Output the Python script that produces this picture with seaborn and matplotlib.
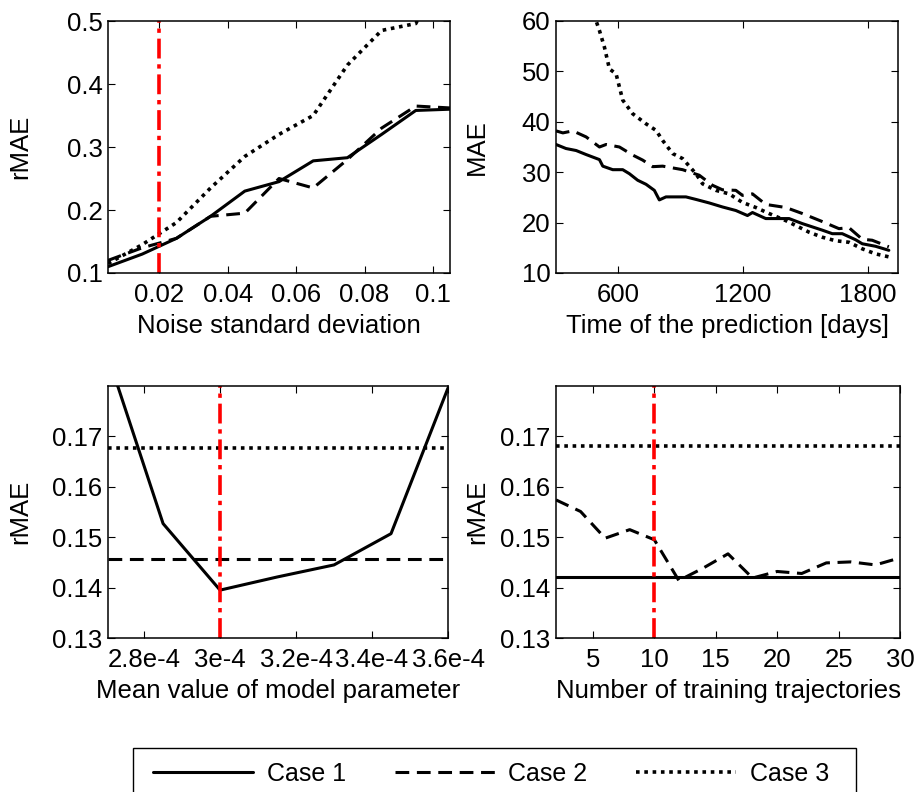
import numpy as np
import pandas as pd
import seaborn as sns
import matplotlib.pyplot as plt
from matplotlib.lines import Line2D
from matplotlib.patches import Rectangle

# ---------------- data ----------------
# (a) rMAE vs noise standard deviation
noise_sd = [0.005, 0.015, 0.025, 0.035, 0.045, 0.055, 0.065, 0.075, 0.085, 0.095, 0.105]
noise_case1 = [0.110, 0.130, 0.155, 0.190, 0.230, 0.245, 0.278, 0.283, 0.320, 0.358, 0.360]
noise_case2 = [0.120, 0.140, 0.155, 0.190, 0.195, 0.250, 0.235, 0.280, 0.330, 0.365, 0.362]
noise_case3 = [0.115, 0.145, 0.180, 0.235, 0.285, 0.320, 0.350, 0.430, 0.485, 0.496, 0.600]
noise_chosen = 0.02

# (b) MAE vs time of the prediction
days_case1 = [300, 348, 397, 445, 509, 525, 573, 621, 653, 693, 733, 773, 797, 829, 925,
              973, 1037, 1101, 1165, 1221, 1245, 1309, 1421, 1485, 1581, 1629, 1677,
              1741, 1773, 1837, 1901]
mae_case1 = [35.5, 34.7, 34.3, 33.5, 32.5, 31.2, 30.5, 30.5, 29.7, 28.4, 27.6, 26.4, 24.5,
             25.1, 25.1, 24.6, 23.9, 23.1, 22.4, 21.4, 22.0, 20.8, 20.8, 19.8, 18.5, 17.8,
             17.8, 16.6, 15.8, 15.3, 14.5]
days_case2 = [300, 333, 381, 445, 509, 541, 605, 669, 717, 765, 813, 909, 989, 1053, 1101,
              1165, 1197, 1245, 1309, 1405, 1485, 1581, 1661, 1709, 1773, 1821, 1901]
mae_case2 = [38.2, 37.8, 38.2, 37.0, 35.0, 35.5, 35.0, 33.4, 32.4, 31.1, 31.2, 30.5, 29.4,
             27.4, 26.5, 26.4, 25.4, 25.7, 23.6, 23.0, 21.8, 20.2, 18.8, 19.0, 16.7, 16.5,
             15.2]
days_case3 = [300, 400, 493, 509, 533, 557, 589, 621, 669, 733, 781, 813, 861, 909, 973,
              1005, 1069, 1133, 1197, 1261, 1325, 1405, 1469, 1517, 1581, 1645, 1709,
              1773, 1837, 1901]
mae_case3 = [85.0, 70.0, 60.0, 58.1, 54.8, 50.5, 49.5, 44.3, 41.6, 39.6, 38.3, 36.3, 33.7,
             32.7, 29.7, 27.7, 26.4, 25.7, 24.0, 23.0, 21.8, 20.4, 19.1, 18.1, 17.1, 16.4,
             16.1, 14.8, 13.8, 13.2]

# (c) rMAE vs mean value of model parameter
param_mean = [2.70e-4, 2.85e-4, 3.00e-4, 3.15e-4, 3.30e-4, 3.45e-4, 3.60e-4]
param_case1 = [0.187, 0.1527, 0.1395, 0.1421, 0.1445, 0.1507, 0.1796]
param_case2 = 0.1457
param_case3 = 0.1676
param_chosen = 3e-4

# (d) rMAE vs number of training trajectories
n_traj = [2, 4, 6, 8, 10, 12, 14, 16, 18, 20, 22, 24, 26, 28, 30]
traj_case2 = [0.1574, 0.1551, 0.1498, 0.1515, 0.1495, 0.1414, 0.1439, 0.1467, 0.1419,
              0.1432, 0.1428, 0.1449, 0.1451, 0.1445, 0.1459]
traj_case1 = 0.1422
traj_case3 = 0.1680
traj_chosen = 10

case_labels = ["Case 1", "Case 2", "Case 3"]

# ---------------- style ----------------
sns.set_style("ticks")
plt.rcParams["font.family"] = ["Liberation Sans", "DejaVu Sans"]
plt.rcParams.update({
    "font.size": 18.5,
    "axes.linewidth": 1.1,
    "xtick.direction": "in", "ytick.direction": "in",
    "xtick.top": True, "ytick.right": True,
    "xtick.major.size": 5, "ytick.major.size": 5,
    "xtick.major.pad": 7, "ytick.major.pad": 4,
    "xtick.color": "black", "ytick.color": "black",
    "axes.edgecolor": "black", "text.color": "black", "axes.labelcolor": "black",
})

LW = 2.2
styles = {
    "Case 1": dict(color="black", lw=LW, linestyle="-"),
    "Case 2": dict(color="black", lw=LW, linestyle=(0, (4.5, 2.5))),
    "Case 3": dict(color="black", lw=2.6, linestyle=(0, (1.0, 1.3))),
}
red_style = dict(color="red", lw=2.6, linestyle=(0, (5.5, 1.6, 1.2, 1.6)))

fig = plt.figure(figsize=(9.16, 7.92), dpi=100)
W, H = 916, 792


def add_ax(left, top, right, bottom):
    return fig.add_axes([left / W, 1 - bottom / H, (right - left) / W, (bottom - top) / H])


ax_a = add_ax(108, 21, 450, 273)
ax_b = add_ax(556, 21, 898, 273)
ax_c = add_ax(108, 386, 448, 638)
ax_d = add_ax(556, 386, 900, 638)

# (a)
for lab, ys in zip(case_labels, [noise_case1, noise_case2, noise_case3]):
    sns.lineplot(x=noise_sd, y=ys, ax=ax_a, **styles[lab])
ax_a.axvline(noise_chosen, **red_style)
ax_a.set_xlim(0.005, 0.105)
ax_a.set_ylim(0.1, 0.5)
ax_a.set_xticks([0.02, 0.04, 0.06, 0.08, 0.1])
ax_a.set_xticklabels(["0.02", "0.04", "0.06", "0.08", "0.1"])
ax_a.set_yticks([0.1, 0.2, 0.3, 0.4, 0.5])
ax_a.set_yticklabels(["0.1", "0.2", "0.3", "0.4", "0.5"])
ax_a.set_xlabel("Noise standard deviation")
ax_a.set_ylabel("rMAE")

# (b)
for lab, xs, ys in zip(case_labels, [days_case1, days_case2, days_case3],
                       [mae_case1, mae_case2, mae_case3]):
    sns.lineplot(x=xs, y=ys, ax=ax_b, **styles[lab])
ax_b.set_xlim(300, 1945)
ax_b.set_ylim(10, 60)
ax_b.set_xticks([600, 1200, 1800])
ax_b.set_yticks([10, 20, 30, 40, 50, 60])
ax_b.set_xlabel("Time of the prediction [days]")
ax_b.set_ylabel("MAE")

# (c)
sns.lineplot(x=param_mean, y=param_case1, ax=ax_c, **styles["Case 1"])
ax_c.axhline(param_case2, **styles["Case 2"])
ax_c.axhline(param_case3, **styles["Case 3"])
ax_c.axvline(param_chosen, **red_style)
ax_c.set_xlim(2.705e-4, 3.6e-4)
ax_c.set_ylim(0.13, 0.18)
ax_c.set_xticks([2.8e-4, 3.0e-4, 3.2e-4, 3.4e-4, 3.6e-4])
ax_c.set_xticklabels(["2.8e-4", "3e-4", "3.2e-4", "3.4e-4", "3.6e-4"])
ax_c.set_yticks([0.13, 0.14, 0.15, 0.16, 0.17])
ax_c.set_yticklabels(["0.13", "0.14", "0.15", "0.16", "0.17"])
ax_c.set_xlabel("Mean value of model parameter")
ax_c.set_ylabel("rMAE")

# (d)
ax_d.axhline(traj_case1, **styles["Case 1"])
sns.lineplot(x=n_traj, y=traj_case2, ax=ax_d, **styles["Case 2"])
ax_d.axhline(traj_case3, **styles["Case 3"])
ax_d.axvline(traj_chosen, **red_style)
ax_d.set_xlim(2, 30)
ax_d.set_ylim(0.13, 0.18)
ax_d.set_xticks([5, 10, 15, 20, 25, 30])
ax_d.set_yticks([0.13, 0.14, 0.15, 0.16, 0.17])
ax_d.set_yticklabels(["0.13", "0.14", "0.15", "0.16", "0.17"])
ax_d.set_xlabel("Number of training trajectories")
ax_d.set_ylabel("rMAE")

# y label positions (right edge of rotated text, axes fraction)
for ax, xpos in [(ax_a, -0.222), (ax_b, -0.196), (ax_c, -0.224), (ax_d, -0.195)]:
    ax.yaxis.set_label_coords(xpos, 0.5)
    ax.xaxis.labelpad = 5

# shared legend at the bottom: frame drawn separately, box runs off the bottom edge
fig.patches.append(Rectangle((133 / W, -12 / H), (856 - 133) / W, (792 - 748 + 12) / H,
                             transform=fig.transFigure, fill=False, ec="black", lw=1.0))
handles = [Line2D([], [], **styles[lab]) for lab in case_labels]
fig.legend(handles, case_labels, loc="center left",
           bbox_to_anchor=(153 / W, 1 - 774 / H),
           ncol=3, frameon=False, borderaxespad=0, borderpad=0,
           handlelength=4.0, handletextpad=0.55, columnspacing=1.95,
           prop={"family": ["Liberation Sans Narrow", "Liberation Sans"], "size": 18})

fig.savefig("out.png", dpi=100)
